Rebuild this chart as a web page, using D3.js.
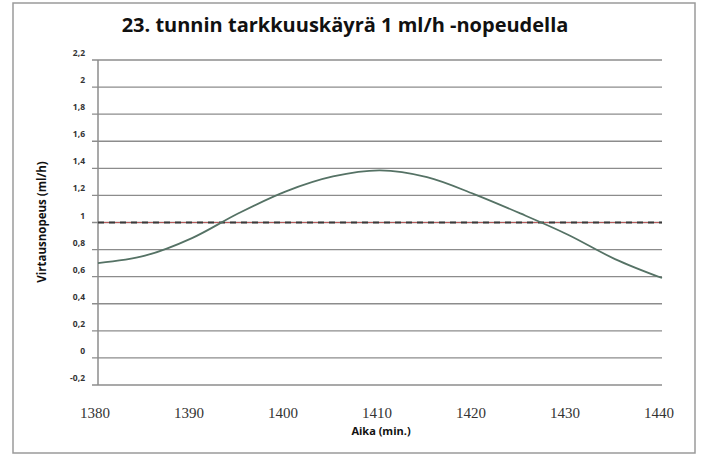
<!DOCTYPE html>
<html>
<head>
<meta charset="utf-8">
<script src="https://cdn.jsdelivr.net/npm/d3@7"></script>
<style>
  body { margin: 0; background: #fff; }
  svg { display: block; }
</style>
</head>
<body>
<div id="chart"></div>
<script>
// data
var minutes = [1380, 1385, 1390, 1395, 1400, 1405, 1410, 1415, 1420, 1425, 1430, 1435, 1440];
var flowRate = [0.70, 0.755, 0.885, 1.07, 1.23, 1.34, 1.385, 1.335, 1.21, 1.065, 0.91, 0.73, 0.59];
var targetRate = [1, 1];
var xTicks = [1380, 1390, 1400, 1410, 1420, 1430, 1440];
var yTicks = [-0.2, 0, 0.2, 0.4, 0.6, 0.8, 1, 1.2, 1.4, 1.6, 1.8, 2, 2.2];

var titleText = "23. tunnin tarkkuuskäyrä 1 ml/h -nopeudella";
var xTitle = "Aika (min.)";
var yTitle = "Virtausnopeus (ml/h)";

var width = 702, height = 455;

var svg = d3.select("#chart").append("svg")
    .attr("width", width)
    .attr("height", height);

// outer frame
svg.append("rect")
    .attr("x", 13).attr("y", 3)
    .attr("width", 682).attr("height", 450)
    .attr("fill", "#fff")
    .attr("stroke", "#9a9a9a")
    .attr("stroke-width", 1.5);

var x = d3.scaleLinear().domain([1380, 1440]).range([98, 662]);
var y = d3.scaleLinear().domain([-0.2, 2.2]).range([385, 60]);

// horizontal grid lines (with small tick stubs left of axis)
svg.append("g").selectAll("line").data(yTicks).enter()
    .append("line")
    .attr("x1", 92).attr("x2", x(1440))
    .attr("y1", function(d) { return y(d); })
    .attr("y2", function(d) { return y(d); })
    .attr("stroke", "#8c8c8c")
    .attr("stroke-width", 1.3);

// y axis line
svg.append("line")
    .attr("x1", x(1380)).attr("x2", x(1380))
    .attr("y1", y(2.2)).attr("y2", y(-0.2))
    .attr("stroke", "#8c8c8c")
    .attr("stroke-width", 1.5);

// y tick labels
var fmt = function(d) { return String(+d.toFixed(1)).replace(".", ","); };
svg.append("g").selectAll("text").data(yTicks).enter()
    .append("text")
    .attr("x", 85)
    .attr("y", function(d) { return y(d) - 4; })
    .attr("text-anchor", "end")
    .attr("font-family", "Open Sans, Liberation Sans, sans-serif")
    .attr("font-weight", "bold")
    .attr("font-size", "8.5px")
    .attr("fill", "#333")
    .text(fmt);

// x tick labels
svg.append("g").selectAll("text").data(xTicks).enter()
    .append("text")
    .attr("x", function(d) { return x(d) - 3; })
    .attr("y", 418)
    .attr("text-anchor", "middle")
    .attr("font-family", "Liberation Serif, Times New Roman, serif")
    .attr("font-size", "15px")
    .attr("fill", "#333")
    .text(function(d) { return d; });

// target line at 1 ml/h
svg.append("line")
    .attr("x1", x(1380)).attr("x2", x(1440))
    .attr("y1", y(targetRate[0])).attr("y2", y(targetRate[1]))
    .attr("stroke", "#b85a5a")
    .attr("stroke-width", 1);
svg.append("line")
    .attr("x1", x(1380)).attr("x2", x(1440))
    .attr("y1", y(targetRate[0])).attr("y2", y(targetRate[1]))
    .attr("stroke", "#3a3a3a")
    .attr("stroke-width", 2)
    .attr("stroke-dasharray", "6,5");

// measured flow curve
var line = d3.line()
    .x(function(d, i) { return x(minutes[i]); })
    .y(function(d) { return y(d); })
    .curve(d3.curveCatmullRom);

svg.append("path")
    .datum(flowRate)
    .attr("d", line)
    .attr("fill", "none")
    .attr("stroke", "#557265")
    .attr("stroke-width", 1.8);

// titles
svg.append("text")
    .attr("x", 345).attr("y", 32)
    .attr("text-anchor", "middle")
    .attr("font-family", "Open Sans, Liberation Sans, sans-serif")
    .attr("font-weight", "bold")
    .attr("font-size", "20px")
    .attr("fill", "#111")
    .text(titleText);

svg.append("text")
    .attr("x", 381).attr("y", 435)
    .attr("text-anchor", "middle")
    .attr("font-family", "Open Sans, Liberation Sans, sans-serif")
    .attr("font-weight", "bold")
    .attr("font-size", "11px")
    .attr("fill", "#111")
    .text(xTitle);

svg.append("text")
    .attr("transform", "translate(46,222) rotate(-90)")
    .attr("text-anchor", "middle")
    .attr("font-family", "Open Sans, Liberation Sans, sans-serif")
    .attr("font-weight", "bold")
    .attr("font-size", "11.5px")
    .attr("fill", "#111")
    .text(yTitle);
</script>
</body>
</html>
